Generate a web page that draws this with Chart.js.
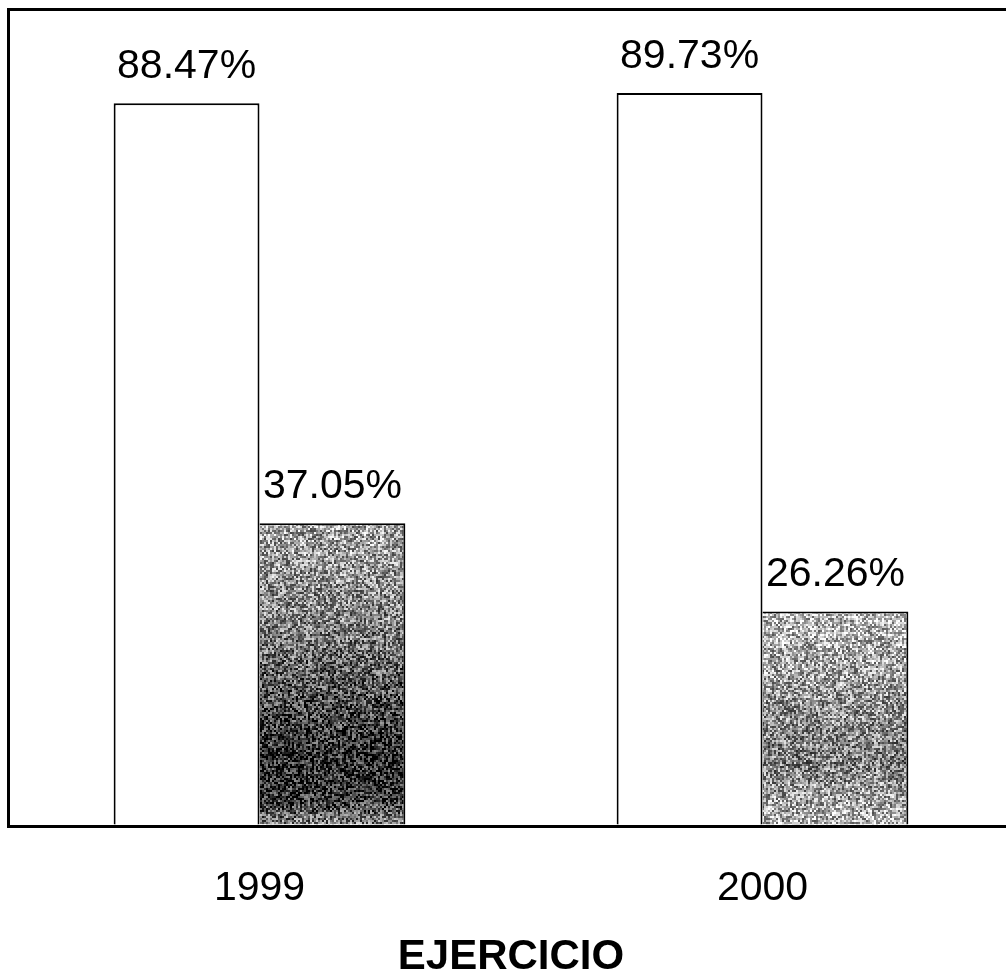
<!DOCTYPE html>
<html>
<head>
<meta charset="utf-8">
<script src="https://cdn.jsdelivr.net/npm/chart.js@4/dist/chart.umd.min.js"></script>
<style>
  html, body { margin: 0; padding: 0; background: #fff; overflow: hidden; }
  #wrap { position: absolute; left: 0; top: 0; width: 1014px; height: 974px; }
</style>
</head>
<body>
<div id="wrap"><canvas id="myChart" width="1014" height="974"></canvas></div>
<script>
var years = ['1999', '2000'];
var serieBlanca = [88.47, 89.73];
var serieGris = [37.05, 26.26];
var yTicks = [0, 100];

// scanned-looking grey fill (deterministic speckle, styling only)
function makeTexture(stops, seed) {
    var c = document.createElement('canvas');
    c.width = 1014; c.height = 974;
    var g = c.getContext('2d');
    var grad = g.createLinearGradient(0, 0, 0, 974);
    stops.forEach(function (s) { grad.addColorStop(s[0] / 974, s[1]); });
    g.fillStyle = grad;
    g.fillRect(0, 0, 1014, 974);
    var img = g.getImageData(0, 0, 1014, 974);
    var d = img.data;
    var s = seed;
    for (var y = 0; y < 974; y += 2) {
        for (var x = 0; x < 1014; x += 2) {
            s = (s * 1103515245 + 12345) & 0x7fffffff;
            var off = ((s >> 8) % 190) - 95;
            for (var dy = 0; dy < 2; dy++) {
                for (var dx = 0; dx < 2; dx++) {
                    var i = ((y + dy) * 1014 + x + dx) * 4;
                    var v = Math.max(0, Math.min(255, d[i] + off));
                    d[i] = d[i + 1] = d[i + 2] = v;
                }
            }
        }
    }
    g.putImageData(img, 0, 0);
    return g.createPattern(c, 'no-repeat');
}

var ctx = document.getElementById('myChart').getContext('2d');

var tex1999 = makeTexture([[0, '#b0b0b0'], [520, '#a8a8a8'], [620, '#858585'], [700, '#505050'],
                           [760, '#2a2a2a'], [800, '#383838'], [826, '#8a8a8a'], [974, '#8a8a8a']], 7);
var tex2000 = makeTexture([[0, '#c4c4c4'], [609, '#c0c0c0'], [690, '#9c9c9c'], [760, '#808080'],
                           [826, '#b8b8b8'], [974, '#b8b8b8']], 13);

var valueLabels = {
    id: 'valueLabels',
    afterDatasetsDraw: function (chart) {
        var c = chart.ctx;
        c.save();
        c.fillStyle = '#000';
        c.font = '41px "Liberation Sans", Arial, sans-serif';
        c.textAlign = 'center';
        c.textBaseline = 'alphabetic';
        chart.data.datasets.forEach(function (ds, di) {
            chart.getDatasetMeta(di).data.forEach(function (bar, i) {
                c.fillText(ds.data[i].toFixed(2) + '%', bar.x, bar.y - 25);
            });
        });
        c.restore();
    }
};

var myBarChart = new Chart(ctx, {
    type: 'bar',
    data: {
        labels: years,
        datasets: [{
            label: 'Serie 1',
            data: serieBlanca,
            backgroundColor: '#ffffff',
            borderColor: '#000000',
            borderWidth: { top: 2, left: 2, right: 2, bottom: 0 },
            borderSkipped: false
        }, {
            label: 'Serie 2',
            data: serieGris,
            backgroundColor: [tex1999, tex2000],
            borderColor: '#000000',
            borderWidth: { top: 2, left: 0, right: 2, bottom: 0 },
            borderSkipped: false
        }]
    },
    options: {
        responsive: false,
        animation: false,
        layout: { padding: { left: 8, top: 9, right: 0, bottom: 0 } },
        plugins: {
            legend: { display: false },
            tooltip: { enabled: false }
        },
        datasets: { bar: { categoryPercentage: 0.58, barPercentage: 1 } },
        scales: {
            x: {
                grid: { display: false, drawTicks: false },
                border: { display: true, color: '#000', width: 3 },
                ticks: {
                    color: '#000',
                    padding: 38,
                    font: { family: '"Liberation Sans", Arial, sans-serif', size: 41 }
                },
                title: {
                    display: true,
                    text: 'EJERCICIO',
                    color: '#000',
                    padding: 0,
                    font: { family: '"Liberation Sans", Arial, sans-serif', size: 42, weight: 'bold', lineHeight: 0.8 }
                },
                afterFit: function (scale) { scale.height = 148; }
            },
            y: {
                min: yTicks[0],
                max: yTicks[1],
                afterBuildTicks: function (scale) {
                    scale.ticks = yTicks.map(function (v) { return { value: v }; });
                },
                ticks: { display: false },
                grid: {
                    drawTicks: false,
                    lineWidth: 3,
                    color: function (c) { return c.tick && c.tick.value === yTicks[1] ? '#000' : 'rgba(0,0,0,0)'; }
                },
                border: { display: true, color: '#000', width: 3 }
            }
        }
    },
    plugins: [valueLabels]
});
</script>
</body>
</html>
